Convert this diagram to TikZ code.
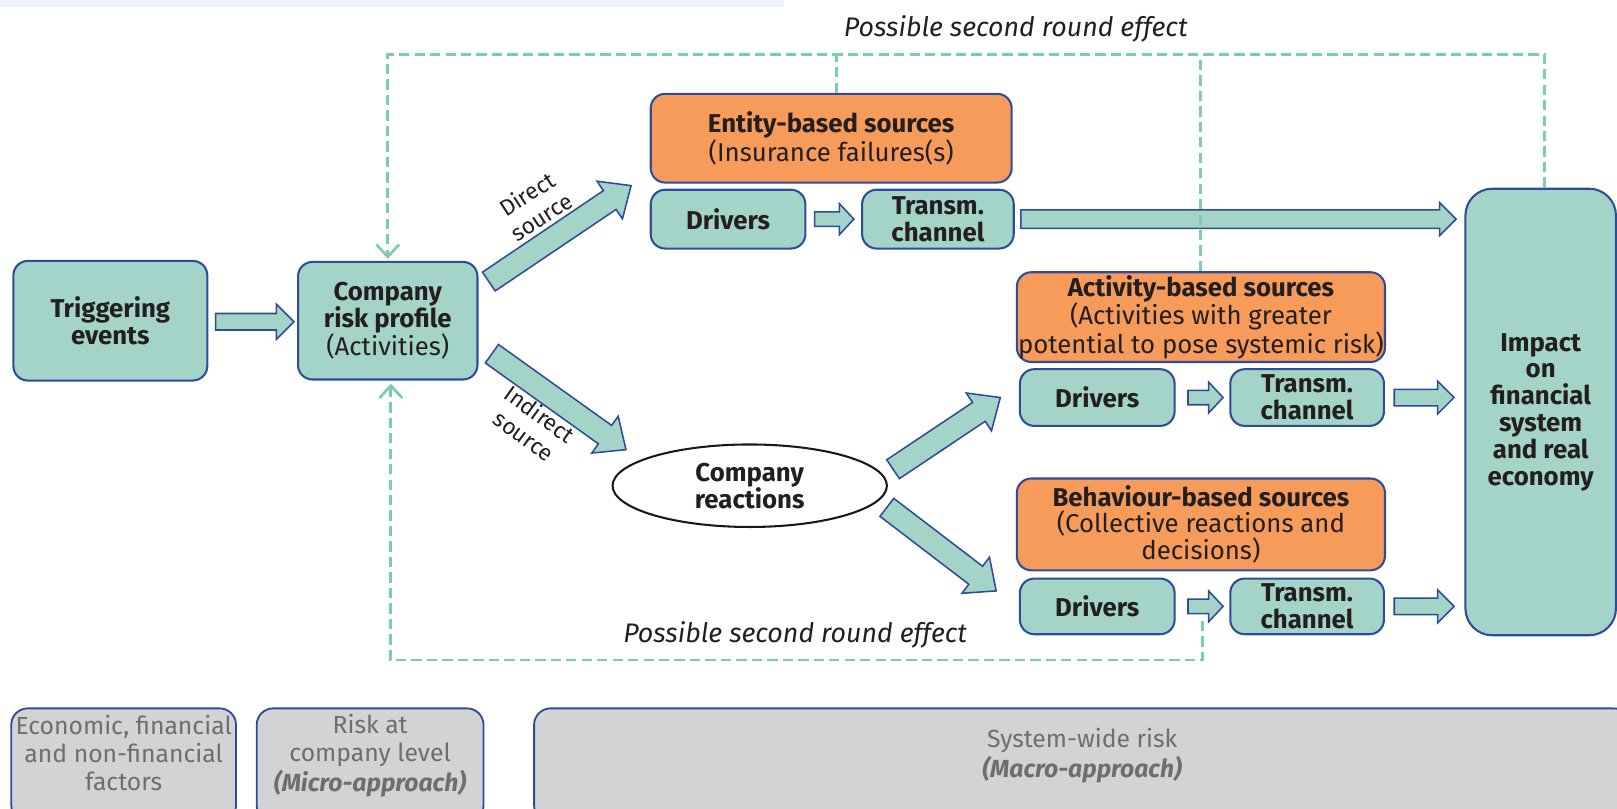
\documentclass[tikz,border=0pt]{standalone}
\usepackage{fontspec}
\setmainfont{Fira Sans}
\usetikzlibrary{calc,arrows.meta,shapes.geometric}
\definecolor{teal1}{HTML}{A3D4C7}
\definecolor{bord}{HTML}{2E4C9A}
\definecolor{orng}{HTML}{F79B5B}
\definecolor{dash1}{HTML}{7BCBB5}
\definecolor{gry}{HTML}{D1D3D4}
\definecolor{gtxt}{HTML}{6D6E71}
\definecolor{txt}{HTML}{231F20}
\definecolor{band}{HTML}{EEF3FB}
\newcommand\barrow[5]{%
  \coordinate (bA) at #1; \coordinate (bB) at #2;
  \coordinate (bC) at ($(bB)!#5!(bA)$);
  \filldraw[barr] ($(bA)!#3!90:(bB)$) -- ($(bC)!#3!90:(bB)$) -- ($(bC)!#4!90:(bB)$) -- (bB)
    -- ($(bC)!#4!-90:(bB)$) -- ($(bC)!#3!-90:(bB)$) -- ($(bA)!#3!-90:(bB)$) -- cycle;
}
\begin{document}
\begin{tikzpicture}[x=1pt,y=-1pt,
  tbox/.style={draw=bord, line width=2pt, fill=teal1, rounded corners=14pt, align=center, text=txt,
    inner sep=0pt, anchor=north west, font=\fontsize{25}{26}\selectfont\bfseries},
  obox/.style={tbox, fill=orng, font=\fontsize{25}{26}\selectfont},
  gbox/.style={draw=bord, line width=1.8pt, fill=gry, rounded corners=16pt, anchor=north west,
    inner sep=0pt, text=gtxt, font=\fontsize{24}{27}\selectfont},
  barr/.style={draw=bord, fill=teal1, line width=1.5pt, line join=miter},
  dline/.style={draw=dash1, line width=2.8pt, dash pattern=on 10pt off 5pt},
  dtip/.style={-{Straight Barb[length=12pt,width=22pt,line width=2.6pt]}},
  lbl/.style={font=\fontsize{26}{27}\selectfont\itshape, text=txt},
  slbl/.style={font=\fontsize{22}{26}\selectfont, text=txt, align=center},
]
\useasboundingbox (0,0) rectangle (1568,784);
\fill[band] (0,0) rectangle (760,7);

% nodes
\node[tbox, minimum width=188pt, minimum height=116pt] (trig) at (12,252) {Triggering\\events};
\node[tbox, minimum width=174pt, minimum height=114pt] (comp) at (288,253) {Company\\risk profile\\{\mdseries(Activities)}};
\node[obox, minimum width=350pt, minimum height=86pt] (ent) at (630,90) {\textbf{Entity-based sources}\\(Insurance failures(s)};
\node[tbox, minimum width=150pt, minimum height=57pt] (d1) at (630,183) {Drivers};
\node[tbox, minimum width=147pt, minimum height=57pt] (t1) at (835,183) {Transm.\\channel};
\node[tbox, rounded corners=26pt, minimum width=146pt, minimum height=433pt] (imp) at (1420,182) {Impact\\on\\financial\\system\\and real\\economy};
\node[obox, minimum width=357pt, minimum height=87pt] (act) at (985,263) {\textbf{Activity-based sources}\\(Activities with greater\\potential to pose systemic risk)};
\node[tbox, minimum width=150pt, minimum height=55pt] (d2) at (988,357) {Drivers};
\node[tbox, minimum width=149pt, minimum height=55pt] (t2) at (1192,357) {Transm.\\channel};
\node[obox, minimum width=357pt, minimum height=89pt] (beh) at (985,463) {\textbf{Behaviour-based sources}\\(Collective reactions and\\decisions)};
\node[tbox, minimum width=150pt, minimum height=54pt] (d3) at (988,560) {Drivers};
\node[tbox, minimum width=149pt, minimum height=54pt] (t3) at (1192,560) {Transm.\\channel};
\node[ellipse, draw=black!90, line width=2pt, fill=white, minimum width=266pt, minimum height=80pt,
  inner sep=0pt, align=center, text=txt, font=\fontsize{25}{26}\selectfont\bfseries] (react) at (727,471) {Company\\reactions};

% bottom grey boxes
\node[gbox, minimum width=218pt, minimum height=110pt] (g1) at (10,686)
  {\begin{tabular}{@{}c@{}}Economic, financial\\and non-financial\\factors\\[16pt]\end{tabular}};
\node[gbox, minimum width=220pt, minimum height=110pt] (g2) at (248,686)
  {\begin{tabular}{@{}c@{}}Risk at\\company level\\\textbf{\textit{(Micro-approach)}}\\[16pt]\end{tabular}};
\node[gbox, minimum width=1063pt, minimum height=110pt] (g3) at (517,686)
  {\begin{tabular}{@{}c@{}}System-wide risk\\\textbf{\textit{(Macro-approach)}}\\[16pt]\end{tabular}};

% block arrows
\barrow{($(trig.east)+(7,1)$)}{($(comp.west)+(-3,1)$)}{8pt}{17pt}{17pt}
\barrow{($(comp.east)+(10,-38)$)}{($(d1.north west)+(-18,-3)$)}{11pt}{22pt}{25pt}
\barrow{($(comp.east)+(13,32)$)}{($(react.center)+(-120,-35)$)}{11pt}{22pt}{25pt}
\barrow{($(react.center)+(139,-16)$)}{($(d2.west)+(-18,0)$)}{11pt}{22pt}{25pt}
\barrow{($(react.center)+(133,21)$)}{($(d3.west)+(-22,-15)$)}{11pt}{22pt}{25pt}
\barrow{($(d1.east)+(8,0)$)}{($(t1.west)+(-7,0)$)}{7pt}{15pt}{14pt}
\barrow{($(t1.east)+(6,0)$)}{($(imp.west |- t1.east)+(-8,0)$)}{9pt}{16pt}{16pt}
\barrow{($(d2.east)+(12,0)$)}{($(t2.west)+(-6,0)$)}{7pt}{15pt}{14pt}
\barrow{($(t2.east)+(9,0)$)}{($(imp.west |- t2.east)+(-10,0)$)}{8pt}{16pt}{16pt}
\barrow{($(d3.east)+(12,0)$)}{($(t3.west)+(-6,0)$)}{7pt}{15pt}{14pt}
\barrow{($(t3.east)+(9,0)$)}{($(imp.west |- t3.east)+(-10,0)$)}{8pt}{16pt}{16pt}

% dashed feedback lines
\coordinate (tl) at (comp.north |- 0,53);
\coordinate (tr) at ($(imp.north)+(4,0)$);
\draw[dline, dtip, shorten >=2pt] (tr) |- (tl) -- (comp.north);
\draw[dline] ($(ent.north)+(5,0)$) -- ($(ent.north |- tl)+(5,0)$);
\draw[dline] (act.north) -- (act.north |- tl);
\coordinate (fb) at ($(d3.east)!0.5!(t3.west)+(0,14)$);
\coordinate (bl) at ($(comp.south |- 0,640)+(3,0)$);
\coordinate (cb) at ($(comp.south)+(3,0)$);
\draw[dline, dtip, shorten >=3pt] (fb) |- (bl) -- (cb);

% labels
\node[slbl, rotate=33] (lds) at (518,199) {Direct\\source};
\node[slbl, rotate=-36] (lis) at (516,412) {Indirect\\source};
\node[lbl] (ltop) at (985,28) {Possible second round effect};
\node[lbl] (lbot) at (771,616) {Possible second round effect};
\end{tikzpicture}
\end{document}
